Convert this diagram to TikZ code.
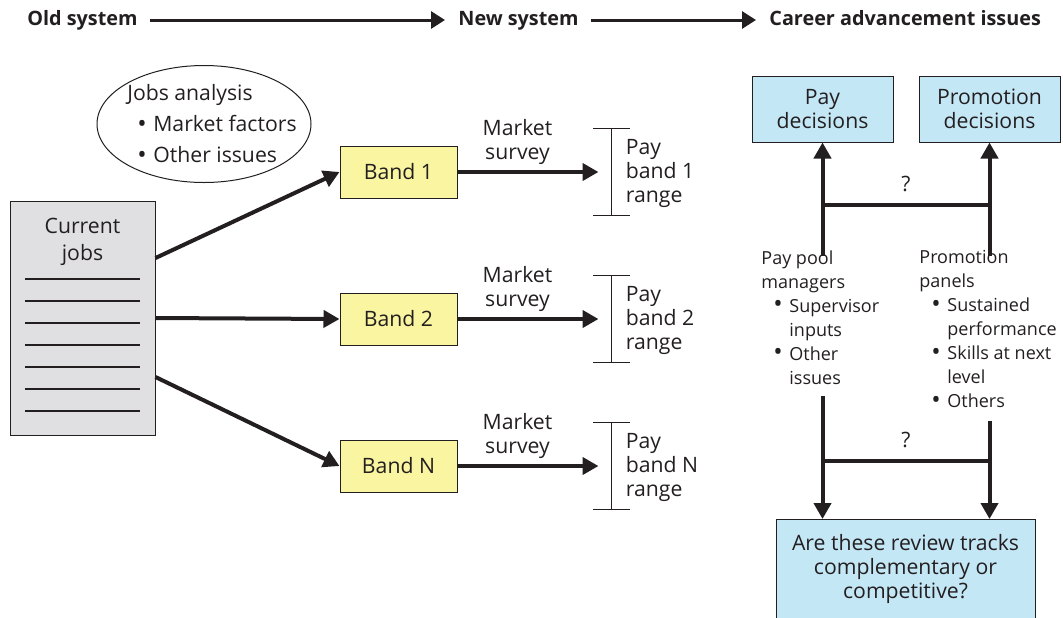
\documentclass[tikz,border=0pt]{standalone}
\usepackage{fontspec}
\setmainfont{Open Sans}
\usetikzlibrary{arrows.meta,shapes,positioning,calc}

\definecolor{ink}{RGB}{35,31,32}
\definecolor{bandfill}{RGB}{250,245,160}
\definecolor{decfill}{RGB}{196,231,246}
\definecolor{jobfill}{RGB}{224,224,226}

\newcommand{\bul}[1][6pt]{\hspace*{#1}\makebox[8pt][l]{\raisebox{-0.4pt}{\fontsize{12.5}{12}\selectfont•}}}
\newcommand{\ind}{\hspace*{14pt}}

\begin{document}
\begin{tikzpicture}[
    x=0.5pt, y=-0.5pt,
    every node/.style={font=\fontsize{10.6}{12}\selectfont, text=ink},
    header/.style={font=\fontsize{9.9}{12}\selectfont\bfseries, inner sep=0pt,
                   anchor=west, text height=7pt, text depth=2pt},
    band/.style={rectangle, draw=ink, fill=bandfill, line width=0.5pt,
                 minimum width=58.5pt, minimum height=26pt},
    decision/.style={rectangle, draw=ink, fill=decfill, line width=0.5pt,
                 minimum width=70.5pt, minimum height=33pt, align=center},
    jobs/.style={rectangle, draw=ink, fill=jobfill, line width=0.5pt,
                 minimum width=72.5pt, minimum height=117pt},
    list/.style={align=left, inner sep=0pt, anchor=north west,
                 font=\fontsize{9}{12}\selectfont},
    arrow/.style={-{Triangle[length=8pt,width=8.5pt]}, line width=2pt, draw=ink},
    toparrow/.style={-{Triangle[length=7pt,width=8.5pt]}, line width=1.5pt, draw=ink,
                 shorten <=6pt, shorten >=6.5pt},
    bar/.style={line width=2pt, draw=ink},
    rangeline/.style={line width=0.75pt, draw=ink}
]
\useasboundingbox (0,0) rectangle (1063,617);

% Header
\node[header] (OLD) at (27,20) {Old system};
\node[header] (NEW) at (458,20) {New system};
\node[header] (CAR) at (769,20) {Career advancement issues};
\draw[toparrow] (OLD) -- (NEW);
\draw[toparrow] (NEW) -- (CAR);

% Old system
\node[ellipse, draw=ink, line width=0.5pt, minimum width=107pt, minimum height=58.5pt] (JA) at (204,124) {};
\node[align=left, xshift=4pt, font=\fontsize{10.6}{15.5}\selectfont] (JAT) at (JA) {Jobs analysis\\\bul[5pt]Market factors\\\bul[5pt]Other issues};
\node[jobs] (CJ) at (82.5,318) {};
\node[below=5.5pt of CJ.north, align=center, font=\fontsize{10.6}{13.5}\selectfont] (CJT) {Current\\jobs};
\foreach \dy in {-39,-17,5,27,49,71,93}
  \draw[rangeline] ($(CJ.center)+(-57.5,\dy)$) -- ++(115,0);

% New system
\node[band] (B1) at (398.5,172) {Band 1};
\node[band, below=47pt of B1] (B2) {Band 2};
\node[band, below=47pt of B2] (BN) {Band N};
\draw[arrow] ([yshift=30pt]CJ.east) -- (B1.west);
\draw[arrow] (CJ.east) -- (B2.west);
\draw[arrow] ([yshift=-29.5pt]CJ.east) -- (BN.west);

\foreach \bn/\lab in {B1/1, B2/2, BN/N} {
  \coordinate (R\lab) at ($(\bn.east)+(154,0)$);
  \draw[arrow] (\bn.east) -- ([xshift=-6.5pt]R\lab);
  \node[align=center] (MS\lab) at ($(\bn.east)+(60,-30)$) {Market\\survey};
  \draw[rangeline] ($(R\lab)+(-18.5,-43.5)$) -- ++(37,0)
                   ($(R\lab)+(0,-43.5)$) -- ++(0,87)
                   ($(R\lab)+(-18.5,43.5)$) -- ++(37,0);
  \node[align=left, inner sep=0pt, anchor=west] (PB\lab) at ($(R\lab)+(14,1)$) {Pay\\band \lab\\range};
}

% Career advancement
\node[decision] (PD) at (822.5,109) {Pay\\decisions};
\node[decision, right=12.5pt of PD] (PR) {Promotion\\decisions};
\coordinate (PDin) at ($(PD.south)+(0,113)$);
\coordinate (PRin) at ($(PR.south)+(0,113)$);
\draw[arrow] (PDin) -- (PD.south);
\draw[arrow] (PRin) -- (PR.south);
\draw[bar] ($(PD.south)+(0,62)$) -- ($(PR.south)+(0,62)$) node[midway, above=2pt] (Q1) {?};

\node[list] (PPM) at (761,250) {Pay pool\\managers\\\bul Supervisor\\\ind inputs\\\bul Other\\\ind issues};
\node[list] (PPN) at (919,250) {Promotion\\panels\\\bul Sustained\\\ind performance\\\bul Skills at next\\\ind level\\\bul Others};

\node[decision, anchor=north, minimum width=129.5pt, inner ysep=7.5pt, text depth=14pt] (AR) at (905.5,519) {Are these review tracks\\complementary or\\competitive?};
\coordinate (PDout) at ($(PD.south)+(0,253)$);
\coordinate (PRout) at ($(PR.south)+(0,278)$);
\draw[arrow] (PDout) -- (PDout |- AR.north);
\draw[arrow] (PRout) -- (PRout |- AR.north);
\draw[bar] ($(PD.south)+(0,318)$) -- ($(PR.south)+(0,318)$) node[midway, above=2pt] (Q2) {?};

\end{tikzpicture}
\end{document}
